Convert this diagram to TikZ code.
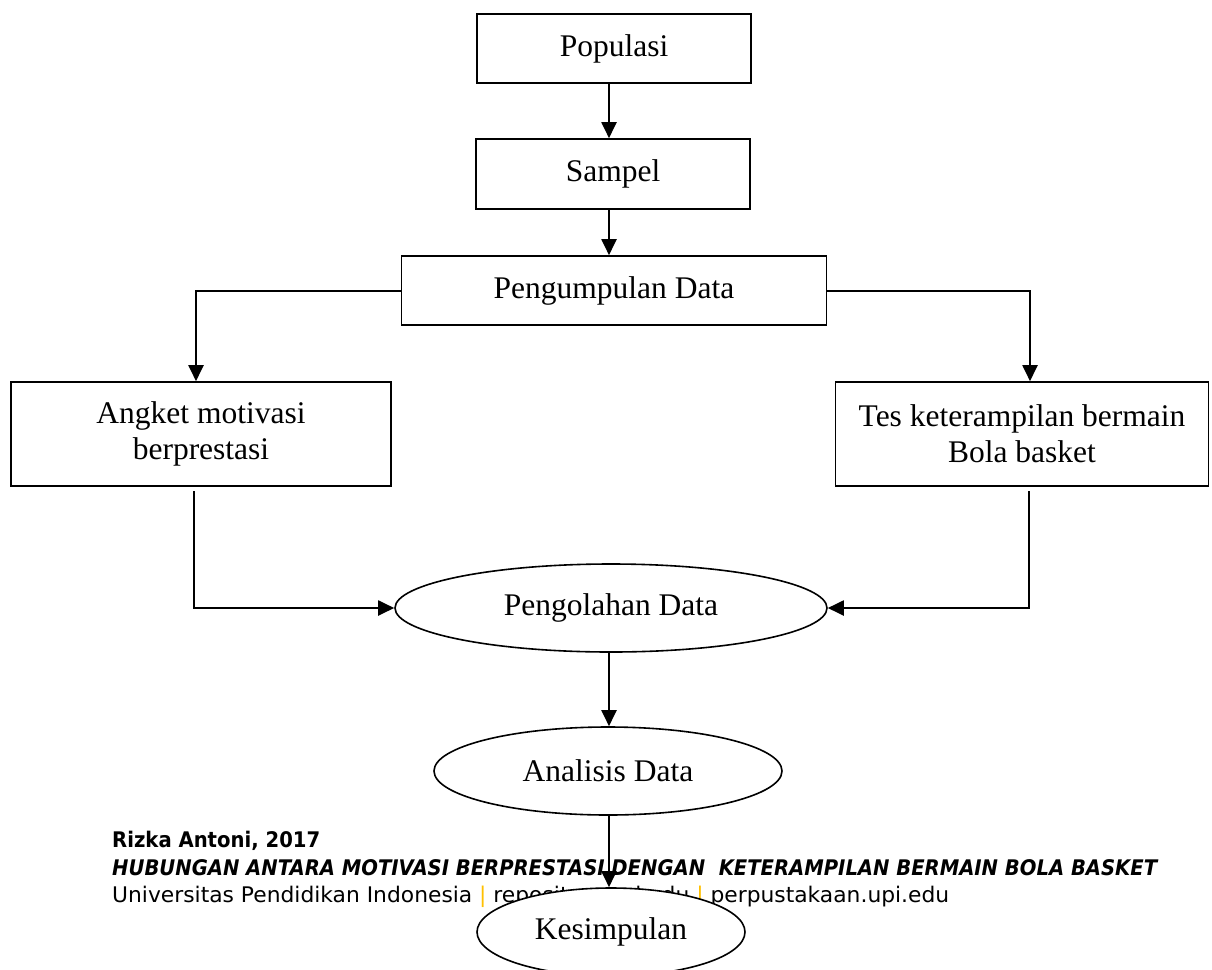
\documentclass[tikz,border=0pt]{standalone}
\usepackage{fontspec}
\usepackage{graphicx}
\setmainfont{Liberation Serif}
\newfontfamily\footfont{DejaVu Sans}
\usetikzlibrary{shapes.geometric,arrows.meta}
\definecolor{barc}{HTML}{FFC000}
\newcommand\mainfs{\fontsize{31.5}{36}\selectfont}
\newcommand\footfs{\footfont\fontsize{21.5}{25}\selectfont}
\begin{document}
\begin{tikzpicture}[x=1pt,y=-1pt,
  box/.style={draw, line width=1.6pt, rectangle, inner sep=0pt, align=center, font=\mainfs},
  oval/.style={draw, line width=1.6pt, ellipse, inner sep=0pt, fill=white, align=center, font=\mainfs},
  arr/.style={line width=2pt, -{Triangle[length=16pt,width=15pt]}},
  foot/.style={anchor=base west, inner sep=0pt, font=\footfs}]
\clip (0,0) rectangle (1212,969);
\fill[white] (0,0) rectangle (1212,969);

\node[box, minimum width=274pt, minimum height=69pt] (pop) at (614,48.5) {Populasi};
\node[box, minimum width=274pt, minimum height=70pt] (sam) at (613,174) {Sampel};
\node[box, minimum width=425pt, minimum height=69pt] (pen) at (614,290.5) {Pengumpulan Data};
\node[box, minimum width=380pt, minimum height=104pt] (ang) at (201,434) {Angket motivasi\\berprestasi};
\node[box, minimum width=373pt, minimum height=104pt] (tes) at (1022,434) {Tes keterampilan bermain\\Bola basket};
\node[oval, minimum width=432pt, minimum height=88pt] (olah) at (611,608) {Pengolahan Data};
\node[oval, minimum width=348pt, minimum height=88pt] (anal) at (608,771) {Analisis Data};

\node[foot] (f1) at (112,847) {\bfseries\resizebox{208pt}{\height}{Rizka Antoni, 2017}};
\node[foot] (f2) at (112,875) {\bfseries\itshape\resizebox{1045pt}{\height}{HUBUNGAN ANTARA MOTIVASI BERPRESTASI DENGAN~ KETERAMPILAN BERMAIN BOLA BASKET}};
\node[foot] (f3) at (112,902) {\resizebox{837pt}{\height}{Universitas Pendidikan Indonesia \textcolor{barc}{|} repository.upi.edu \textcolor{barc}{|} perpustakaan.upi.edu}};

\node[oval, minimum width=268pt, minimum height=88pt] (kes) at (611,932) {Kesimpulan};

\coordinate (ax) at (609,0);
\coordinate (lx) at (196,0);
\coordinate (rx) at (1030,0);
\coordinate (lb) at (194,491);
\coordinate (rb) at (1029,491);

\draw[arr] (pop.south -| ax) -- (sam.north -| ax);
\draw[arr] (sam.south -| ax) -- (pen.north -| ax);
\draw[arr] (pen.west) -| (ang.north -| lx);
\draw[arr] (pen.east) -| (tes.north -| rx);
\draw[arr] (lb) |- (olah.west);
\draw[arr] (rb) |- (olah.east);
\draw[arr] (olah.south -| ax) -- (anal.north -| ax);
\draw[arr] (anal.south -| ax) -- (kes.north -| ax);
\end{tikzpicture}
\end{document}
